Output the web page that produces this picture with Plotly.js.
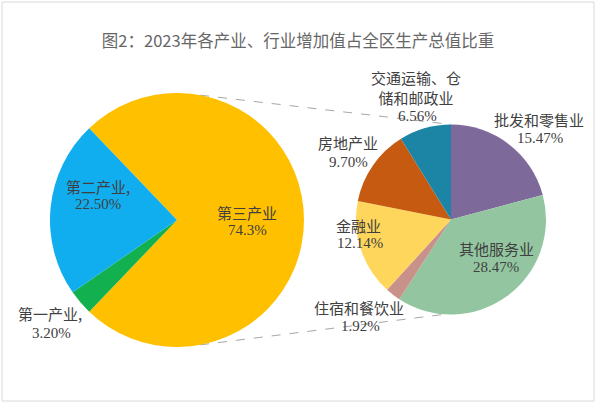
<!DOCTYPE html>
<html><head><meta charset="utf-8">
<script src="https://cdn.plot.ly/plotly-3.0.1.min.js"></script>
<style>html,body{margin:0;padding:0;background:#fff}</style>
</head><body><div id="chart" style="width:596px;height:403px"></div>
<script>
// ---- data ----
const industryNames = ['第三产业', '第一产业', '第二产业'];
const industryValues = [74.3, 3.20, 22.50];
const industryDecimals = [1, 2, 2];
const sectorNames = ['批发和零售业', '其他服务业', '住宿和餐饮业', '金融业', '房地产业', '交通运输、仓<br>储和邮政业'];
const sectorValues = [15.47, 28.47, 1.92, 12.14, 9.70, 6.56];
const sectorDecimals = [2, 2, 2, 2, 2, 2];
const chartTitle = '图2：2023年各产业、行业增加值占全区生产总值比重';

// ---- styles / layout ----
const W = 596, H = 403;
const industryColors = ['#FFC000', '#12B04F', '#10AEEF'];
const sectorColors = ['#7E6A9A', '#93C6A0', '#C8918A', '#FFD65C', '#C65A10', '#1C85A6'];
const industrySep = ['', ',', ','];
const sectorSep = ['', '', '', '', '', ''];
// label centres in px: [nameX, nameY, valueX, valueY]
const industryLabelPos = [[247, 212, 247, 230], [50, 313, 51, 333], [98, 186, 98, 204]];
const sectorLabelPos = [[539, 119, 540, 138], [496, 248, 496, 267], [359, 307, 360, 326],
                        [358, 225, 360, 243], [348, 142, 348, 162], [416, 87, 417, 116]];
const leftPie = {cx: 177, cy: 220, r: 127};
const rightPie = {cx: 451, cy: 219.5, r: 95};
const cjk = '"Noto Sans CJK SC", "Noto Sans", sans-serif';
const serif = '"Liberation Serif", "DejaVu Serif", serif';
const labelColor = '#404040';

function domainOf(p) {
  return {x: [(p.cx - p.r) / W, (p.cx + p.r) / W], y: [1 - (p.cy + p.r) / H, 1 - (p.cy - p.r) / H]};
}

// the first (split-out) slice is centred on 3 o'clock
const industryTotal = industryValues.reduce((a, b) => a + b, 0);
const leftRotation = 90 - industryValues[0] / industryTotal * 180;

const traces = [
  {type: 'pie', labels: industryNames, values: industryValues, sort: false, direction: 'clockwise',
   rotation: leftRotation,
   marker: {colors: industryColors, line: {width: 0}}, textinfo: 'none', hoverinfo: 'label+value',
   domain: domainOf(leftPie), showlegend: false},
  {type: 'pie', labels: sectorNames, values: sectorValues, sort: false, direction: 'clockwise', rotation: 0,
   marker: {colors: sectorColors, line: {width: 0}}, textinfo: 'none', hoverinfo: 'label+value',
   domain: domainOf(rightPie), showlegend: false}
];

const annotations = [];
function addLabels(names, values, decs, seps, pos) {
  names.forEach((n, i) => {
    const p = pos[i];
    annotations.push({xref: 'paper', yref: 'paper', x: p[0] / W, y: 1 - p[1] / H, xanchor: 'center', yanchor: 'middle',
      text: n + seps[i], showarrow: false, font: {family: cjk, size: 15, color: labelColor}});
    annotations.push({xref: 'paper', yref: 'paper', x: p[2] / W, y: 1 - p[3] / H, xanchor: 'center', yanchor: 'middle',
      text: values[i].toFixed(decs[i]) + '%', showarrow: false, font: {family: serif, size: 15, color: labelColor}});
  });
}
addLabels(industryNames, industryValues, industryDecimals, industrySep, industryLabelPos);
addLabels(sectorNames, sectorValues, sectorDecimals, sectorSep, sectorLabelPos);

function px(x, y) { return {x: x / W, y: 1 - y / H}; }
const connAngle = 10.5 * Math.PI / 180;
const a1 = px(leftPie.cx + leftPie.r * Math.sin(connAngle), leftPie.cy - leftPie.r * Math.cos(connAngle));
const b1 = px(rightPie.cx, rightPie.cy - rightPie.r);
const a2 = px(leftPie.cx + leftPie.r * Math.sin(connAngle), leftPie.cy + leftPie.r * Math.cos(connAngle));
const b2 = px(rightPie.cx - 4, rightPie.cy + rightPie.r - 0.5);

const shapes = [
  {type: 'rect', xref: 'paper', yref: 'paper', x0: 2 / W, x1: 594 / W, y0: 1 - 401 / H, y1: 1 - 2 / H,
   line: {color: '#D9D9D9', width: 1}, layer: 'below'},
  {type: 'line', xref: 'paper', yref: 'paper', x0: a1.x, y0: a1.y, x1: b1.x, y1: b1.y,
   line: {color: '#A6A6A6', width: 1, dash: 'dash'}, layer: 'below'},
  {type: 'line', xref: 'paper', yref: 'paper', x0: a2.x, y0: a2.y, x1: b2.x, y1: b2.y,
   line: {color: '#A6A6A6', width: 1, dash: 'dash'}, layer: 'below'}
];

const layout = {
  width: W, height: H, margin: {l: 0, r: 0, t: 0, b: 0},
  paper_bgcolor: '#fff', plot_bgcolor: '#fff',
  title: {text: chartTitle, x: 0.5, xanchor: 'center', y: 1 - 41 / H, yanchor: 'middle',
          font: {family: cjk, size: 16.5, color: '#666666'}},
  annotations: annotations, shapes: shapes, showlegend: false
};
Plotly.newPlot('chart', traces, layout, {displayModeBar: false, staticPlot: true});
</script></body></html>
